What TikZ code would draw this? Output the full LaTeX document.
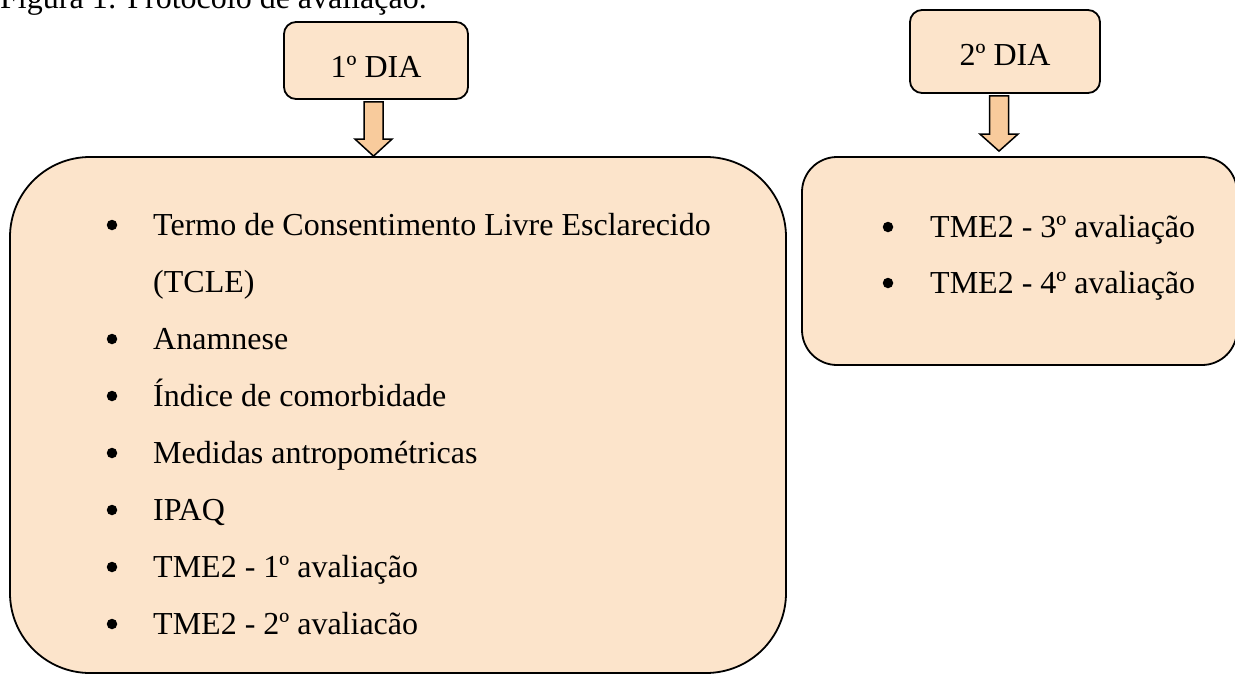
\documentclass[tikz,border=0pt]{standalone}
\usepackage{fontspec}
\setmainfont{Liberation Serif}
\usetikzlibrary{positioning}
\usetikzlibrary{calc}
\definecolor{peach}{HTML}{FCE4CB}
\definecolor{peachdark}{HTML}{F8CB9C}
\tikzset{
	daybox/.style={draw, line width=1.8pt, fill=peach, rounded corners=12pt, inner sep=0pt, text depth=0pt},
	listbox/.style={draw, line width=1.8pt, fill=peach, inner sep=0pt},
	blockarrow/.style={draw, line width=1.5pt, fill=peachdark, line join=miter},
	itemtext/.style={anchor=base west, inner sep=0pt},
	itemdot/.style={circle, fill=black, inner sep=0pt, minimum size=10.5pt}
}

\begin{document}
\begin{tikzpicture}[x=1pt,y=-1pt,font=\fontsize{32}{38}\selectfont]
		\useasboundingbox (0,0) rectangle (1235,675);
		\clip (0,0) rectangle (1235,675);
		% Caption
		\node [anchor=base west, inner sep=0pt] (caption) at (0,8) {Figura 1: Protocolo de avaliação.};
		
		% First Day
		\node [daybox, minimum width=184pt, minimum height=77pt, text height=33pt] (dia1) at (376,60.5) {1º DIA};
		\node [listbox, rounded corners=80pt, minimum width=776pt, minimum height=516pt] (box1) at (398,415) {};
		\node [itemtext] (termo) at (153,235) {Termo de Consentimento Livre Esclarecido};
		\node [itemtext] (tcle) at (153,292) {(TCLE)};
		\node [itemtext] (anamnese) at (153,349) {Anamnese};
		\node [itemtext] (indice) at (153,406) {Índice de comorbidade};
		\node [itemtext] (medidas) at (153,463) {Medidas antropométricas};
		\node [itemtext] (ipaq) at (153,520) {IPAQ};
		\node [itemtext] (tme1) at (153,577) {TME2 - 1º avaliação};
		\node [itemtext] (tme2) at (153,634) {TME2 - 2º avaliacão};
		\node [itemdot] at (112,225) {}; \node [itemdot] at (112,339) {}; \node [itemdot] at (112,396) {}; \node [itemdot] at (112,453) {}; \node [itemdot] at (112,510) {}; \node [itemdot] at (112,567) {}; \node [itemdot] at (112,624) {};
		
		% Second Day
		\node [daybox, minimum width=190pt, minimum height=83pt, text height=27pt] (dia2) at (1005,51.5) {2º DIA};
		\node [listbox, rounded corners=35pt, minimum width=435pt, minimum height=208pt] (box2) at (1019.5,261) {};
		\node [itemtext] (tme3) at (930,237) {TME2 - 3º avaliação};
		\node [itemtext] (tme4) at (930,293) {TME2 - 4º avaliação};
		\node [itemdot] at (888,227) {}; \node [itemdot] at (888,283) {};
		
		% Block arrows between the boxes
		\coordinate (top1) at ($(dia1.south)+(-2.5,2)$);
		\coordinate (tip1) at (top1 |- box1.north);
		\draw [blockarrow] ($(top1)+(-9.5,0)$) -- ($(tip1)+(-9.5,-17)$) -- ($(tip1)+(-18.5,-17)$) -- (tip1) -- ($(tip1)+(18.5,-17)$) -- ($(tip1)+(9.5,-17)$) -- ($(top1)+(9.5,0)$) -- cycle;
		\coordinate (top2) at ($(dia2.south)+(-6,2)$);
		\coordinate (tip2) at ($(top2 |- box2.north)+(0,-5)$);
		\draw [blockarrow] ($(top2)+(-9.5,0)$) -- ($(tip2)+(-9.5,-17)$) -- ($(tip2)+(-19,-17)$) -- (tip2) -- ($(tip2)+(19,-17)$) -- ($(tip2)+(9.5,-17)$) -- ($(top2)+(9.5,0)$) -- cycle;
\end{tikzpicture}
\end{document}
